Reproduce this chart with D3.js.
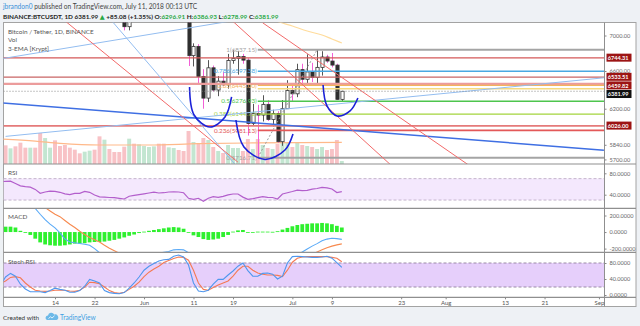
<!DOCTYPE html>
<html>
<head>
<meta charset="utf-8">
<script src="https://cdn.jsdelivr.net/npm/d3@7"></script>
<style>
html, body { margin: 0; padding: 0; background: #eef1f5; }
svg { display: block; font-family: Lato, "Open Sans", "DejaVu Sans", sans-serif; }
</style>
</head>
<body>
<svg id="chart" width="640" height="326"></svg>
<script>
// ---------- BINANCE:BTCUSDT daily candles ----------
const dates = [
  "2018-05-03","2018-05-04","2018-05-05","2018-05-06","2018-05-07","2018-05-08","2018-05-09","2018-05-10","2018-05-11","2018-05-12",
  "2018-05-13","2018-05-14","2018-05-15","2018-05-16","2018-05-17","2018-05-18","2018-05-19","2018-05-20","2018-05-21","2018-05-22",
  "2018-05-23","2018-05-24","2018-05-25","2018-05-26","2018-05-27","2018-05-28","2018-05-29","2018-05-30","2018-05-31","2018-06-01",
  "2018-06-02","2018-06-03","2018-06-04","2018-06-05","2018-06-06","2018-06-07","2018-06-08","2018-06-09","2018-06-10","2018-06-11",
  "2018-06-12","2018-06-13","2018-06-14","2018-06-15","2018-06-16","2018-06-17","2018-06-18","2018-06-19","2018-06-20","2018-06-21",
  "2018-06-22","2018-06-23","2018-06-24","2018-06-25","2018-06-26","2018-06-27","2018-06-28","2018-06-29","2018-06-30","2018-07-01",
  "2018-07-02","2018-07-03","2018-07-04","2018-07-05","2018-07-06","2018-07-07","2018-07-08","2018-07-09","2018-07-10","2018-07-11"
];
const opens = [
  9240,9740,9700,9860,9655,9375,9240,9325,9045,8440,
  8505,8725,8715,8510,8370,8095,8120,8070,8510,8525,
  8040,7560,7590,7480,7355,7340,7103,7470,7400,7495,
  7540,7645,7720,7640,7625,7655,7690,7625,7500,6770,
  6875,6540,6310,6635,6395,6490,6450,6715,6740,6760,
  6720,6050,6150,6135,6245,6090,6150,5870,6200,6390,
  6355,6615,6510,6590,6530,6640,6755,6710,6665,6296.91
];
const highs = [
  9800,9770,9990,9940,9690,9470,9370,9490,9050,8650,
  8770,8880,8840,8510,8480,8270,8390,8590,8560,8550,
  8050,7740,7660,7620,7420,7455,7530,7570,7590,7595,
  7700,7760,7750,7680,7700,7750,7700,7685,7500,6910,
  6900,6620,6720,6660,6545,6590,6790,6830,6820,6790,
  6740,6250,6240,6340,6290,6190,6175,6290,6500,6440,
  6680,6680,6785,6690,6837.15,6820,6780,6800,6680,6386.93
];
const lows = [
  9180,9540,9700,9500,9170,9060,8970,9000,8340,8220,
  8350,8280,8420,8110,8030,7940,8040,8060,8330,7990,
  7430,7270,7330,7335,7250,7060,7060,7330,7350,7360,
  7460,7600,7450,7460,7520,7630,7560,7470,6655,6650,
  6460,6200,6270,6380,6330,6440,6410,6680,6560,6680,
  5930,6030,5716.71,6070,6075,6020,5860,5830,6200,6280,
  6320,6470,6450,6480,6450,6550,6690,6640,6290,6278.99
];
const closes = [
  9740,9700,9860,9655,9375,9240,9325,9045,8440,8505,
  8725,8715,8510,8370,8095,8080,8070,8510,8525,8040,
  7560,7590,7480,7355,7340,7103,7470,7400,7495,7540,
  7645,7720,7515,7625,7655,7690,7625,7500,6770,6875,
  6540,6310,6635,6395,6490,6450,6715,6740,6760,6720,
  6050,6150,6135,6245,6090,6150,5870,6200,6390,6355,
  6615,6510,6590,6530,6640,6755,6710,6665,6297,6381.99
];
// volume, thousands of BTC
const volumes = [
  30.0,28.0,23.5,26.5,32.0,24.5,24.5,24.5,46.5,39.0,
  24.5,35.5,27.0,28.5,24.5,21.5,16.0,18.5,20.0,21.5,
  41.5,36.5,22.5,18.0,18.0,26.0,38.0,30.5,29.5,27.0,
  25.5,26.5,30.5,30.5,25.0,24.0,21.0,19.5,49.5,33.0,
  31.5,39.0,36.0,25.5,19.5,16.5,28.5,24.0,24.0,19.5,
  37.5,22.5,37.5,28.5,24.0,22.5,30.0,33.0,31.5,25.5,
  31.5,28.5,27.0,25.5,22.5,25.5,21.0,22.5,36.0,4.5
];
// volume moving average, sampled
const volMA = [
  ["2018-05-03",37.5],["2018-05-10",34.3],["2018-05-15",31.0],["2018-05-23",28.5],["2018-06-02",28.5],
  ["2018-06-12",30.5],["2018-06-22",31.5],["2018-07-02",32.0],["2018-07-11",32.5]
];
// 3-EMA [Krypt]: only the slowest average reaches into view
const emaSlow = [
  ["2018-06-27",7185],["2018-06-28",7164],["2018-07-01",7111],["2018-07-04",7052],
  ["2018-07-07",7006],["2018-07-09",6960],["2018-07-11",6914]
];

// ---------- indicators ----------
const rsi = [
  64.5,64.9,65.2,60.9,56.6,55.0,54.0,49.9,42.6,45.0,
  46.5,46.2,44.5,41.5,40.0,42.4,42.6,46.0,44.5,39.4,
  36.1,35.5,34.8,34.4,33.3,32.0,37.2,38.9,40.2,41.7,
  43.2,44.7,43.2,43.7,45.0,45.4,45.0,43.6,33.3,31.4,
  33.3,27.7,33.3,36.3,35.0,36.8,39.8,41.3,41.3,35.5,
  31.4,32.7,34.4,36.3,35.0,34.8,32.0,41.3,43.7,46.0,
  48.6,47.7,48.0,50.3,51.6,53.5,52.9,50.7,44.1,45.6
];
const macdLine = [
  430,420,405,385,360,335,310,285,215,150,
  95,50,-10,-85,-120,-130,-138,-148,-160,-200,
  -250,-290,-320,-340,-360,-375,-365,-350,-330,-310,
  -290,-270,-255,-245,-235,-215,-210,-215,-250,-300,
  -340,-390,-400,-410,-405,-395,-380,-370,-355,-350,
  -390,-400,-405,-400,-395,-390,-400,-380,-350,-320,
  -275,-240,-205,-170,-140,-105,-85,-75,-80,-88
];
const signalLine = [
  330,335,340,342,343,340,330,320,308,295,
  255,215,186,140,95,55,10,-30,-65,-92,
  -120,-160,-195,-225,-255,-280,-300,-315,-325,-325,
  -320,-310,-300,-290,-290,-275,-265,-255,-255,-265,
  -280,-300,-320,-335,-345,-350,-350,-350,-350,-350,
  -360,-370,-375,-380,-385,-385,-390,-385,-375,-360,
  -340,-310,-290,-265,-240,-215,-190,-170,-155,-143
];
const macdHist = [
  60,65,65,55,15,-10,-35,-80,-125,-150,
  -160,-165,-165,-160,-150,-140,-140,-135,-125,-120,
  -120,-115,-105,-95,-80,-65,-45,-30,-12,5,
  15,25,35,45,55,60,55,40,-3,-40,
  -60,-85,-95,-90,-80,-60,-35,5,20,25,
  -2,-4,5,5,5,3,10,30,50,70,
  85,95,100,105,105,110,105,95,75,55
];
const stochK = [
  25,45,54,47,27,15,8,8,8,6,
  11,17,14,12,7,7,11,22,39,35,
  30,11,6,4,3,6,17,30,45,62,
  72,79,85,88,89,97,100,95,75,30,
  10,8,12,27,39,39,50,60,72,80,
  61,47,47,54,55,52,40,47,80,96,
  97,96,95,94,94,95,97,92,81,69
];
const stochD = [
  29,35,44,46,43,30,20,12,10,9,
  10,12,12,12,10,9,12,20,32,31,
  28,20,11,6,4,7,14,22,32,46,
  57,65,72,81,86,91,95,94,87,62,
  30,14,12,19,25,30,35,47,62,72,
  72,62,55,52,50,50,49,46,62,82,
  92,95,96,96,96,96,96,94,92,83
];

// ---------- drawings on the price pane ----------
const hLevels = [6744.31, 6533.51, 6459.82, 6026.00];
const lastPrice = 6381.99;
const fibLow = 5716.71, fibHigh = 6837.15;
const fibFrom = "2018-06-24", fibTo = "2018-07-06";
const fibLevels = [1, 0.786, 0.65, 0.618, 0.5, 0.382, 0.236, 0];
const fibLabelled = [true, true, true, false, true, true, true, true];
const trendRed = [
  [["2018-05-16", 7173], ["2018-06-20", 5674]],
  [["2018-06-19", 7165], ["2018-07-21", 5644]],
  [["2018-06-25", 7149], ["2018-08-06", 5636]]
];
const trendLightBlue = [
  [["2018-05-04", 5922], ["2018-09-02", 6526]],
  [["2018-05-03", 6734], ["2018-06-19", 7174]],
  [["2018-05-25", 7205], ["2018-06-20", 5622]]
];
const trendBlue = [
  [["2018-05-03", 6261], ["2018-09-02", 5788]]
];
const arcs = [
  [["2018-06-10T05:00", 6427], ["2018-06-11T03:00", 6136], ["2018-06-14T08:00", 6015], ["2018-06-17T09:00", 6116], ["2018-06-18T17:00", 6322]],
  [["2018-06-19T14:00", 6085], ["2018-06-21T05:00", 5819], ["2018-06-25T11:00", 5700], ["2018-06-29T12:00", 5790], ["2018-07-01T03:00", 5946]],
  [["2018-07-07T05:00", 6449], ["2018-07-08T00:00", 6228], ["2018-07-10T01:00", 6126], ["2018-07-12T16:00", 6177], ["2018-07-14T06:00", 6311]]
];

// ---------- axes ----------
const priceTicks = [7000, 6600, 6200, 5840, 5700];
const rsiTicks = [80, 40];
const macdTicks = [200, 0, -200];
const stochTicks = [80, 40, 0];
const timeTickDates = ["2018-05-14","2018-05-22","2018-06-01","2018-06-11","2018-06-19","2018-07-01","2018-07-09","2018-07-23","2018-08-01","2018-08-13","2018-08-21","2018-09-01"];
const timeTickLabels = ["14","22","Jun","11","19","Jul","9","23","Aug","13","21","Sep"];

// ================= drawing =================
const parseT = s => new Date(s.length === 10 ? s + "T00:00:00Z" : s + ":00Z");
const days = dates.map(parseT);

const svg = d3.select("#chart");
const L = 3.5, R = 604.5, FR = 636, T = 22.5, FB = 306.5;
const edge = { main: 22.5, rsi: 164, macd: 208.3, stoch: 252.3, axis: 297.3 };

const x = d3.scaleUtc().domain([parseT("2018-05-03T13:00"), parseT("2018-09-02T00:30")]).range([3.3, 604]);
const yPrice = d3.scaleLog().domain([5657, 7155]).range([164, 22.3]);
const yVol = d3.scaleLinear().domain([0, 75]).range([164, 114]);
const yRsi = d3.scaleLinear().domain([0, 100]).range([216.1, 162.6]);
const yMacd = d3.scaleLinear().domain([-200, 200]).range([248.6, 215.5]);
const yStoch = d3.scaleLinear().domain([0, 100]).range([295, 255]);
const step = x(days[1]) - x(days[0]);

svg.append("rect").attr("width", 640).attr("height", 326).attr("fill", "#eef1f5");
svg.append("rect").attr("x", L).attr("y", T).attr("width", FR - L).attr("height", FB - T)
  .attr("fill", "#fff").attr("stroke", "#a3a3a3").attr("stroke-width", 1);

const defs = svg.append("defs");
function clip(id, y0, y1) {
  defs.append("clipPath").attr("id", id).append("rect")
    .attr("x", L).attr("y", y0).attr("width", R - L).attr("height", y1 - y0);
  return `url(#${id})`;
}
const gMain = svg.append("g").attr("clip-path", clip("cMain", edge.main, edge.rsi));
const gRsi = svg.append("g").attr("clip-path", clip("cRsi", edge.rsi, edge.macd));
const gMacd = svg.append("g").attr("clip-path", clip("cMacd", edge.macd, edge.stoch));
const gStoch = svg.append("g").attr("clip-path", clip("cStoch", edge.stoch, edge.axis));

// ---- volume ----
gMain.selectAll("rect.vol").data(days).join("rect").attr("class", "vol")
  .attr("x", d => x(d) - step / 2 + 0.5).attr("width", step - 1)
  .attr("y", (d, i) => yVol(volumes[i])).attr("height", (d, i) => yVol(0) - yVol(volumes[i]))
  .attr("fill", (d, i) => closes[i] >= opens[i] ? "#c3e6d1" : "#f8c2c6");
gMain.append("path").datum(volMA)
  .attr("d", d3.line().x(d => x(parseT(d[0]))).y(d => yVol(d[1])).curve(d3.curveMonotoneX))
  .attr("fill", "none").attr("stroke", "#ffb98a").attr("stroke-width", 1.2);
gMain.append("path").datum(emaSlow)
  .attr("d", d3.line().x(d => x(parseT(d[0]))).y(d => yPrice(d[1])).curve(d3.curveMonotoneX))
  .attr("fill", "none").attr("stroke", "#ffdc9c").attr("stroke-width", 1.2);

// ---- candles ----
const cw = 3.2;
const candle = gMain.selectAll("g.c").data(days).join("g").attr("class", "c");
candle.append("line")
  .attr("x1", d => Math.round(x(d)) + 0.5).attr("x2", d => Math.round(x(d)) + 0.5)
  .attr("y1", (d, i) => yPrice(highs[i])).attr("y2", (d, i) => yPrice(lows[i]))
  .attr("stroke", (d, i) => closes[i] >= opens[i] ? "#555" : "#f25fd6").attr("stroke-width", 1);
candle.append("rect")
  .attr("x", d => Math.round(x(d)) + 0.5 - cw / 2).attr("width", cw)
  .attr("y", (d, i) => yPrice(Math.max(opens[i], closes[i])))
  .attr("height", (d, i) => Math.max(1, yPrice(Math.min(opens[i], closes[i])) - yPrice(Math.max(opens[i], closes[i]))))
  .attr("fill", (d, i) => closes[i] >= opens[i] ? "#fff" : "#2e2e2e")
  .attr("stroke", "#333").attr("stroke-width", 0.8);

// ---- horizontal levels ----
const hColors = ["#d45858", "#c96565", "#ec9c9c", "#e57a7a"];
const hWidths = [1.2, 1.2, 2.2, 1.6];
hLevels.forEach((p, i) => {
  gMain.append("line").attr("x1", L).attr("x2", R).attr("y1", yPrice(p)).attr("y2", yPrice(p))
    .attr("stroke", hColors[i]).attr("stroke-width", hWidths[i]);
});

// ---- fibonacci retracement ----
const fibColors = ["#a4a4a4", "#4aa8e2", "#f2b45c", "#f5da80", "#4ec54e", "#a3d43c", "#e35858", "#a4a4a4"];
const fibWidths = [2, 1.4, 1.4, 1.4, 1.4, 1.4, 1.8, 2];
const fx0 = x(parseT(fibFrom));
fibLevels.forEach((lv, i) => {
  const p = fibLow + lv * (fibHigh - fibLow);
  gMain.append("line").attr("x1", fx0).attr("x2", R).attr("y1", yPrice(p)).attr("y2", yPrice(p))
    .attr("stroke", fibColors[i]).attr("stroke-width", fibWidths[i]);
  if (fibLabelled[i]) {
    gMain.append("text").attr("x", fx0 - 1).attr("y", yPrice(p)).attr("dy", "0.35em")
      .attr("text-anchor", "end").attr("fill", fibColors[i]).style("font-size", "6.3px")
      .text(`${lv}(${p.toFixed(2)})`);
  }
});
gMain.append("line")
  .attr("x1", fx0).attr("y1", yPrice(fibLow))
  .attr("x2", x(parseT(fibTo))).attr("y2", yPrice(fibHigh))
  .attr("stroke", "#9a9a9a").attr("stroke-width", 1).attr("stroke-dasharray", "2,2");

// ---- trend lines ----
function seg(g, pts, color, w) {
  g.append("line")
    .attr("x1", x(parseT(pts[0][0]))).attr("y1", yPrice(pts[0][1]))
    .attr("x2", x(parseT(pts[1][0]))).attr("y2", yPrice(pts[1][1]))
    .attr("stroke", color).attr("stroke-width", w);
}
trendLightBlue.forEach(t => seg(gMain, t, "#93bdf0", 1));
trendBlue.forEach(t => seg(gMain, t, "#3f6fe3", 1.5));
trendRed.forEach(t => seg(gMain, t, "#f26a6a", 1));

// ---- cup arcs ----
arcs.forEach(a => {
  gMain.append("path").datum(a)
    .attr("d", d3.line().x(d => x(parseT(d[0]))).y(d => yPrice(d[1])).curve(d3.curveCatmullRom.alpha(0.5)))
    .attr("fill", "none").attr("stroke", "#1c22d8").attr("stroke-width", 1.6);
});

// ---- last price line ----
gMain.append("line").attr("x1", L).attr("x2", R).attr("y1", yPrice(lastPrice)).attr("y2", yPrice(lastPrice))
  .attr("stroke", "#8a8a8a").attr("stroke-width", 1).attr("stroke-dasharray", "1,2");

// ---- RSI ----
gRsi.append("rect").attr("x", L).attr("width", R - L).attr("y", yRsi(70)).attr("height", yRsi(30) - yRsi(70)).attr("fill", "#f4e8fd");
[70, 30].forEach(v => gRsi.append("line").attr("x1", L).attr("x2", R).attr("y1", yRsi(v)).attr("y2", yRsi(v))
  .attr("stroke", "#c4b4cc").attr("stroke-dasharray", "3,2"));
gRsi.append("path").datum(rsi)
  .attr("d", d3.line().x((d, i) => x(days[i])).y(d => yRsi(d)))
  .attr("fill", "none").attr("stroke", "#b35fcc").attr("stroke-width", 1.2);

// ---- MACD ----
gMacd.selectAll("rect.h").data(macdHist).join("rect").attr("class", "h")
  .attr("x", (d, i) => x(days[i]) - step / 2 + 0.6).attr("width", step - 1.2)
  .attr("y", d => Math.min(yMacd(d), yMacd(0))).attr("height", d => Math.max(0.8, Math.abs(yMacd(d) - yMacd(0))))
  .attr("fill", "#2ef02e");
gMacd.append("path").datum(signalLine)
  .attr("d", d3.line().x((d, i) => x(days[i])).y(d => yMacd(d)))
  .attr("fill", "none").attr("stroke", "#f78a4f").attr("stroke-width", 1.1);
gMacd.append("path").datum(macdLine)
  .attr("d", d3.line().x((d, i) => x(days[i])).y(d => yMacd(d)))
  .attr("fill", "none").attr("stroke", "#5aaaf7").attr("stroke-width", 1.1);

// ---- Stoch RSI ----
gStoch.append("rect").attr("x", L).attr("width", R - L).attr("y", yStoch(80)).attr("height", yStoch(20) - yStoch(80)).attr("fill", "#e6cffb");
[80, 20].forEach(v => gStoch.append("line").attr("x1", L).attr("x2", R).attr("y1", yStoch(v)).attr("y2", yStoch(v))
  .attr("stroke", "#9a8aa6").attr("stroke-dasharray", "3,2"));
gStoch.append("path").datum(stochD)
  .attr("d", d3.line().x((d, i) => x(days[i])).y(d => yStoch(d)))
  .attr("fill", "none").attr("stroke", "#f47a55").attr("stroke-width", 1.1);
gStoch.append("path").datum(stochK)
  .attr("d", d3.line().x((d, i) => x(days[i])).y(d => yStoch(d)))
  .attr("fill", "none").attr("stroke", "#4f97ee").attr("stroke-width", 1.1);

// ---- separators ----
[edge.rsi, edge.macd, edge.stoch, edge.axis].forEach(y =>
  svg.append("line").attr("x1", L).attr("x2", FR).attr("y1", y).attr("y2", y).attr("stroke", "#8f8f8f").attr("stroke-width", 1.2));
svg.append("line").attr("x1", R).attr("x2", R).attr("y1", T).attr("y2", FB).attr("stroke", "#8f8f8f").attr("stroke-width", 1);

// ---- right axes ----
function styleAxis(g) {
  g.select(".domain").remove();
  g.selectAll(".tick line").attr("stroke", "#888");
  g.selectAll("text").attr("fill", "#666").style("font-size", "5.6px").style("font-family", "Lato, sans-serif");
}
svg.append("g").attr("transform", `translate(${R},0)`)
  .call(d3.axisRight(yPrice).tickValues(priceTicks).tickFormat(d => d.toFixed(2)).tickSize(2).tickPadding(3)).call(styleAxis);
svg.append("g").attr("transform", `translate(${R},0)`)
  .call(d3.axisRight(yRsi).tickValues(rsiTicks).tickFormat(d => d.toFixed(4)).tickSize(2).tickPadding(3)).call(styleAxis);
svg.append("g").attr("transform", `translate(${R},0)`)
  .call(d3.axisRight(yMacd).tickValues(macdTicks).tickFormat(d => d.toFixed(4)).tickSize(2).tickPadding(3)).call(styleAxis);
svg.append("g").attr("transform", `translate(${R},0)`)
  .call(d3.axisRight(yStoch).tickValues(stochTicks).tickFormat(d => d.toFixed(4)).tickSize(2).tickPadding(3)).call(styleAxis);

// price badges, nudged apart when they would overlap
const badges = hLevels.map(p => ({ p, bg: "#9c1414" })).concat([{ p: lastPrice, bg: "#111" }])
  .map(b => ({ ...b, y: yPrice(b.p) })).sort((a, b) => a.y - b.y);
const bh = 8.6;
for (let i = 1; i < badges.length; i++) badges[i].y = Math.max(badges[i].y, badges[i - 1].y + bh);
badges.forEach(b => {
  svg.append("rect").attr("x", R + 2).attr("y", b.y - bh / 2).attr("width", 25).attr("height", bh - 0.6).attr("fill", b.bg);
  svg.append("text").attr("x", R + 3.3).attr("y", b.y).attr("dy", "0.33em").attr("fill", "#fff")
    .style("font-size", "5.6px").style("font-weight", "bold").text(b.p.toFixed(2));
});

// ---- time axis ----
svg.append("g").attr("transform", `translate(0,${edge.axis})`)
  .call(d3.axisBottom(x).tickValues(timeTickDates.map(parseT)).tickFormat((d, i) => timeTickLabels[i]).tickSize(2).tickPadding(1.5))
  .call(g => {
    g.select(".domain").remove();
    g.selectAll(".tick line").attr("stroke", "#888");
    g.selectAll("text").attr("fill", "#555").style("font-size", "6px").style("font-family", "Lato, sans-serif");
  });

// ---- pane legends ----
const legend = [["Bitcoin / Tether, 1D, BINANCE", 33.5], ["Vol", 42], ["3-EMA [Krypt]", 50.5], ["RSI", 175], ["MACD", 219], ["Stoch RSI", 263.5]];
legend.forEach(([t, y]) => svg.append("text").attr("x", 8).attr("y", y).attr("fill", "#555").style("font-size", "6.4px").text(t));

// ---- header ----
const h1 = svg.append("text").attr("x", 3).attr("y", 8.5).style("font-size", "6.6px");
h1.append("tspan").attr("fill", "#3a8fd8").text("jbrandon0");
h1.append("tspan").attr("fill", "#444").text(" published on TradingView.com, July 11, 2018 00:13 UTC");
const up = "#27a844";
const h2 = svg.append("text").attr("x", 3).attr("y", 18.5).style("font-size", "6.4px").style("font-weight", "bold").attr("fill", "#222");
h2.append("tspan").text("BINANCE:BTCUSDT, 1D  ");
h2.append("tspan").text(closes[closes.length - 1].toFixed(2) + " ");
h2.append("tspan").attr("fill", up).text("▲");
h2.append("tspan").text(" +85.08 (+1.35%) O:");
h2.append("tspan").attr("fill", up).text(opens[opens.length - 1].toFixed(2));
h2.append("tspan").text(" H:");
h2.append("tspan").attr("fill", up).text(highs[highs.length - 1].toFixed(2));
h2.append("tspan").text(" L:");
h2.append("tspan").attr("fill", up).text(lows[lows.length - 1].toFixed(2));
h2.append("tspan").text(" C:");
h2.append("tspan").attr("fill", up).text(closes[closes.length - 1].toFixed(2));

// ---- footer ----
svg.append("text").attr("x", 3).attr("y", 319.5).attr("fill", "#333").style("font-size", "6.4px").text("Created with");
const logo = svg.append("g").attr("transform", "translate(46,313)");
logo.append("path").attr("d", "M1,7 a2.4,2.4 0 0 1 1,-4.6 a3.3,3.3 0 0 1 6.2,-0.8 a2.6,2.6 0 0 1 2.2,5.4 Z").attr("fill", "#6cb9e8");
logo.append("path").attr("d", "M2.5,5.5 L4.5,3.8 L6,5 L8.5,2.8").attr("fill", "none").attr("stroke", "#fff").attr("stroke-width", 0.8);
svg.append("text").attr("x", 60).attr("y", 319.5).attr("fill", "#3d9fe2").style("font-size", "6.6px").text("TradingView");
</script>
</body>
</html>
